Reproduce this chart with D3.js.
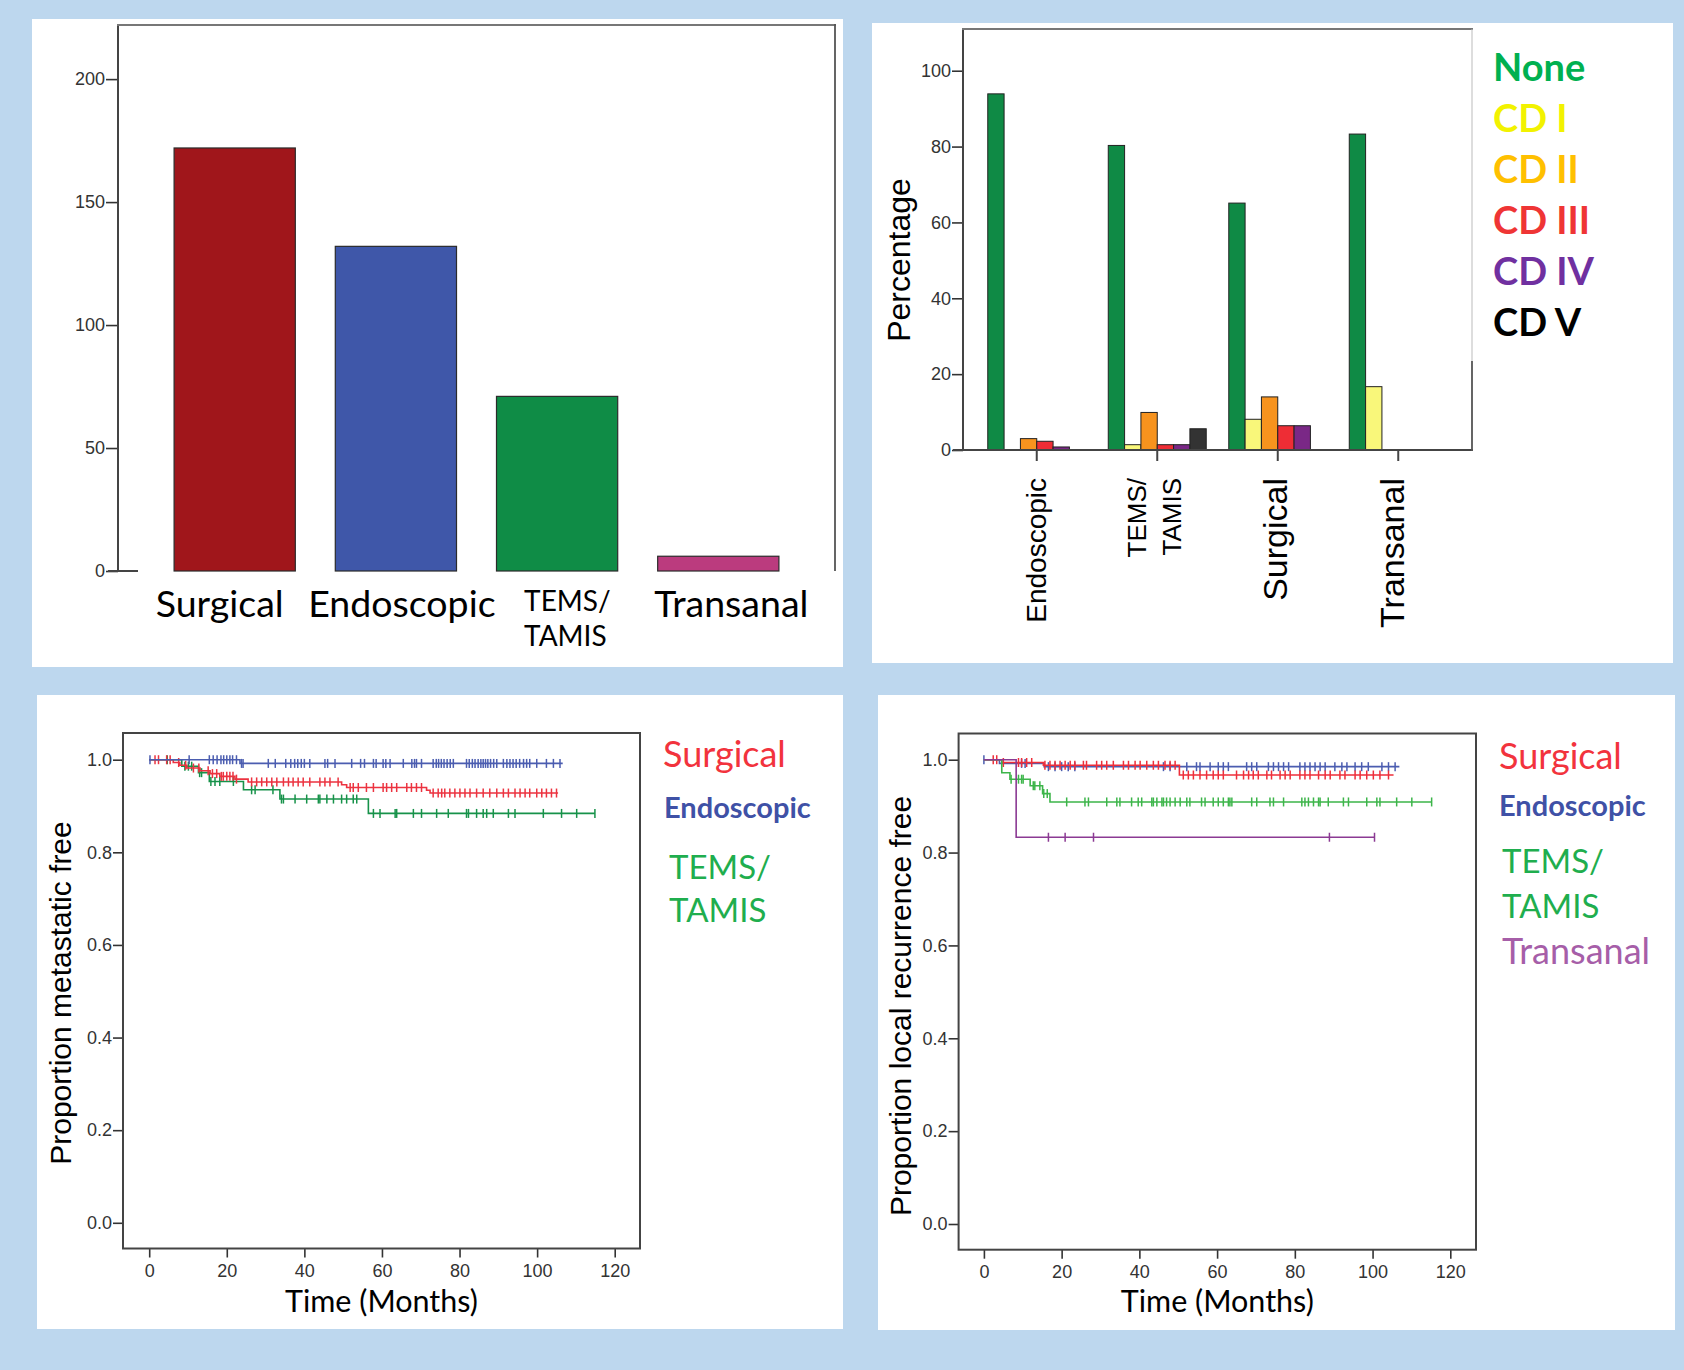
<!DOCTYPE html>
<html><head><meta charset="utf-8">
<script src="https://cdn.jsdelivr.net/npm/d3@7"></script>
<style>body{margin:0;background:#BDD7EE;} svg{display:block;}</style>
</head><body>
<svg id="c" width="1684" height="1370"></svg>
<script>
// ---------------- DATA ----------------
// Top-left: number of patients by procedure
const procedures = ["Surgical", "Endoscopic", "TEMS/TAMIS", "Transanal"];
const procedureCounts = [172, 132, 71, 6];
const countTicks = [0, 50, 100, 150, 200];

// Top-right: Clavien-Dindo complications (%)
const cdGroups = ["Endoscopic", "TEMS/TAMIS", "Surgical", "Transanal"];
const cdGrades = ["None", "CD I", "CD II", "CD III", "CD IV", "CD V"];
const cdEndoscopic = [93.9, 0, 3.0, 2.3, 0.8, 0];
const cdTems       = [80.3, 1.4, 9.9, 1.4, 1.4, 5.6];
const cdSurgical   = [65.1, 8.1, 14.0, 6.4, 6.4, 0];
const cdTransanal  = [83.3, 16.7, 0, 0, 0, 0];
const pctTicks = [0, 20, 40, 60, 80, 100];

// Kaplan-Meier: time (months) and proportion free
const timeTicks = [0, 20, 40, 60, 80, 100, 120];
const propTicks = [0, 0.2, 0.4, 0.6, 0.8, 1.0];

// Metastasis-free (bottom-left)
const metSurgicalSteps = [[0,1],[6.2,0.994],[7.9,0.988],[9.7,0.982],[13.1,0.976],[15.7,0.970],[18.2,0.964],[22.1,0.958],[25.5,0.952],[49.6,0.946],[50.9,0.940],[71.5,0.934],[72.4,0.928],[105.4,0.928]];
const metSurgicalCensor = [1.5,2.4,4.5,5.4,7.6,9.4,11.4,12.8,15.2,16.3,17.4,18.6,19.1,20,20.8,21.6,22.5,26.4,27.7,29,30.3,31.6,32.9,34.6,35.9,37.1,38.4,39.7,41.4,44,45.3,46.6,48.7,51.8,52.6,53.9,56,57.8,60.3,61.2,62.5,63.8,66.4,67.6,68.9,70.2,73.2,74.5,75.4,76.2,77.5,78.8,80.1,81.4,82.7,84.4,86.1,87.8,89.6,91.3,92.6,94.3,95.6,96.9,98.1,99.9,101.2,102.4,103.7,105];
const metEndoscopicSteps = [[0,1],[23.4,0.992],[106.6,0.992]];
const metEndoscopicCensor = [0.2,10.3,15.5,16.5,17.5,18.5,19.2,20,20.8,21.5,22.5,23.8,24.2,30.7,32.5,35.2,36.5,37.5,38.3,39.2,40,41.4,45.3,46,47.9,52.2,54.5,55.5,57.8,58.5,60.3,61,62.1,65.5,67.7,68.4,68.9,70.2,73.2,74,74.6,75.3,76,76.8,77.6,78.4,81.8,82.5,83.3,84,84.8,85.5,86.1,86.7,87.3,88,88.8,89.6,91.3,92.2,93,93.8,94.6,95.5,96.5,97.3,98.1,99.9,102.4,104.2,105.9];
const metTemsSteps = [[0,1],[8.4,0.986],[12.7,0.972],[15.5,0.953],[24.3,0.935],[33.7,0.915],[56.5,0.884],[114.9,0.884]];
const metTemsCensor = [4.65,9.2,10.1,10.95,13.0,13.5,15.9,16.96,18.2,21.7,26.4,27.3,31.9,34.1,34.6,37.6,40.6,43.6,44,45.8,47.5,49.6,50.9,52.6,53.5,57.8,59.5,63.4,63.8,68.1,70.2,74.1,77.1,81.8,82.3,84.4,86.1,87,88.7,92.6,94.3,101.6,106.3,110.2,114.9];

// Local recurrence-free (bottom-right)
const lrSurgicalSteps = [[0,1],[4.6,0.994],[15.3,0.988],[50.3,0.967],[105.4,0.967]];
const lrSurgicalCensor = [2.4,3.3,5,8.9,9.7,11,12.3,15.7,17,18.3,19.6,20.9,22.2,23.4,25.6,26.4,29,30.3,31.6,33.3,35.9,37.2,38.9,40.2,41.9,43.6,44.9,46.6,47.9,49.2,51.3,52.6,53.9,55.6,57.3,59,60.3,61.6,65,66.8,68.1,69.3,70.6,72.8,74,76.2,77.5,78.8,81.3,82.6,83.9,86.1,87.8,89.1,91.6,92.9,95.5,96.8,98.5,100.2,101.9,104.1];
const lrEndoscopicSteps = [[0,1],[4,0.992],[15.5,0.985],[106.9,0.985]];
const lrEndoscopicCensor = [0,9.7,10.6,16.6,18.3,20,21.7,23.4,46.2,47.9,52.2,54.7,55.6,58.2,60.3,61.6,62.9,67.6,68.9,70.2,73.2,74.5,75.8,77.1,78.4,81.3,82.6,83.9,85.2,86.5,87.8,90.3,92.1,93.4,95.5,97.2,98.9,102.4,104.1,105.8];
const lrTemsSteps = [[0,1],[4.6,0.972],[6.7,0.958],[11.9,0.944],[15.1,0.927],[17.0,0.909],[115.2,0.909]];
const lrTemsCensor = [7.0,8.9,9.7,10.1,12.7,13.1,14.4,15.4,16.3,21.3,26,26.9,31.6,34.2,35,38,39.7,40.6,43.2,43.6,44.5,45.8,46.2,47,47.9,49.2,50.5,52.2,53,56,56.9,59,60.3,61.6,62.9,63.3,63.8,68.9,70.2,73.6,74.5,77.1,81.8,82.6,83.5,84.8,86.1,86.5,88.6,92.5,93.8,98.5,101.1,101.9,106.2,110.1,115.2];
const lrTransanalSteps = [[0,1],[8.3,0.833],[100.6,0.833]];
const lrTransanalCensor = [16.6,20.9,28.2,88.9,100.5];

// ---------------- DRAWING ----------------
const svg = d3.select("#c");
const SPSS = "'Liberation Sans', Arial, sans-serif";
const PPT = "Lato, 'Open Sans', sans-serif";

// white panels
const panelBoxes = [[32,19,811,648],[872,23,801,640],[37,695,806,634],[878,695,797,635]];
svg.selectAll("rect.panel").data(panelBoxes).join("rect").attr("class","panel")
  .attr("x",d=>d[0]).attr("y",d=>d[1]).attr("width",d=>d[2]).attr("height",d=>d[3]).attr("fill","#fff");

function styleAxis(g, size) {
  g.attr("font-family", SPSS).attr("font-size", size);
  g.selectAll("text").attr("fill", "#333");
  g.selectAll("line").attr("stroke", "#333").attr("stroke-width", 1.6);
  g.select(".domain").remove();
}
function line(g, x1, y1, x2, y2, color, w) {
  g.append("line").attr("x1",x1).attr("y1",y1).attr("x2",x2).attr("y2",y2)
    .attr("stroke",color).attr("stroke-width",w);
}

// ===== Top-left bar chart =====
(function(){
  const g = svg.append("g");
  const tlColors = ["#A0161B", "#3F57A9", "#0F8C46", "#BB3B7E"];
  const labelShift = {"Surgical": -15, "Endoscopic": 6, "TEMS/TAMIS": 0, "Transanal": 13};
  const y = d3.scaleLinear().domain([0, 222]).range([571, 25]);
  const x = d3.scaleBand().domain(procedures).range([118, 835]).paddingInner(0.248).paddingOuter(0.348);
  g.selectAll("rect.bar").data(procedures).join("rect")
    .attr("x", d => x(d)).attr("y", (d,i) => y(procedureCounts[i]))
    .attr("width", x.bandwidth()).attr("height", (d,i) => y(0) - y(procedureCounts[i]))
    .attr("fill", (d,i) => tlColors[i]).attr("stroke", "#2b2b2b").attr("stroke-width", 1.2);
  const ax = g.append("g").attr("transform","translate(118,0)")
    .call(d3.axisLeft(y).tickValues(countTicks).tickSize(12).tickPadding(1));
  styleAxis(ax, 18);
  line(g, 118, 24, 118, 572, "#444", 2);
  line(g, 117, 25, 836, 25, "#777", 2.2);
  line(g, 835, 24, 835, 571, "#555", 1.8);
  line(g, 108, 571, 138, 571, "#444", 2);
  // category labels
  procedures.forEach((p) => {
    const cx = x(p) + x.bandwidth() / 2 + labelShift[p];
    const parts = p.includes("/") ? [p.split("/")[0] + "/", p.split("/")[1]] : [p];
    if (parts.length === 1) {
      g.append("text").attr("x", cx).attr("y", 617).attr("text-anchor","middle")
        .attr("font-family", PPT).attr("font-size", 37.5).attr("fill","#000").text(p);
    } else {
      parts.forEach((t, k) => g.append("text").attr("x", cx - 33).attr("y", 611 + k * 35)
        .attr("font-family", PPT).attr("font-size", 28).attr("fill","#000").text(t));
    }
  });
})();

// ===== Top-right grouped bar chart =====
(function(){
  const g = svg.append("g");
  const cdTable = [cdEndoscopic, cdTems, cdSurgical, cdTransanal];
  const barColors = ["#0F8A45", "#F9F77A", "#F7931E", "#EE2D35", "#7A2886", "#333333"];
  const legendColors = ["#00B050", "#F2F200", "#FFC000", "#EF3535", "#7030A0", "#000000"];
  const y = d3.scaleLinear().domain([0, 111]).range([450, 29]);
  const x0 = d3.scaleBand().domain(cdGroups).range([963, 1472]).paddingInner(0.187).paddingOuter(0.2055);
  const x1 = d3.scaleBand().domain(cdGrades).range([0, x0.bandwidth()]);
  cdGroups.forEach((grp, gi) => {
    const vals = cdTable[gi];
    g.selectAll(null).data(cdGrades.map((c, ci) => ({c, ci, v: vals[ci]})).filter(d => d.v > 0)).join("rect")
      .attr("x", d => x0(grp) + x1(d.c)).attr("y", d => y(d.v))
      .attr("width", x1.bandwidth()).attr("height", d => y(0) - y(d.v))
      .attr("fill", d => barColors[d.ci]).attr("stroke", "#222").attr("stroke-width", 1);
  });
  const ax = g.append("g").attr("transform","translate(963,0)")
    .call(d3.axisLeft(y).tickValues(pctTicks).tickSize(11).tickPadding(1));
  styleAxis(ax, 18);
  line(g, 963, 28, 963, 451, "#444", 2);
  line(g, 962, 29, 1473, 29, "#777", 2.2);
  line(g, 953, 450, 1473, 450, "#444", 2);
  line(g, 1472, 29, 1472, 361, "#bbb", 1);
  line(g, 1472, 361, 1472, 451, "#555", 1.8);
  cdGroups.forEach(grp => {
    const cx = x0(grp) + x0.bandwidth() / 2;
    line(g, cx, 450, cx, 461, "#444", 2);
  });
  // rotated category labels
  const labStyle = {"Endoscopic": [28, 0], "Surgical": [34, -3], "Transanal": [34, -6]};
  cdGroups.forEach(grp => {
    const cx = x0(grp) + x0.bandwidth() / 2;
    if (grp.includes("/")) {
      const parts = [grp.split("/")[0] + "/", grp.split("/")[1]];
      parts.forEach((t, k) => g.append("text")
        .attr("transform", `translate(${cx - 20 + k * 35},478) rotate(-90)`)
        .attr("text-anchor","end").attr("dominant-baseline","central")
        .attr("font-family", SPSS).attr("font-size", 26).attr("fill","#000").text(t));
    } else {
      const [fs, dx] = labStyle[grp];
      g.append("text").attr("transform", `translate(${cx + dx},478) rotate(-90)`)
        .attr("text-anchor","end").attr("dominant-baseline","central")
        .attr("font-family", SPSS).attr("font-size", fs).attr("fill","#000").text(grp);
    }
  });
  g.append("text").attr("transform","translate(899,260) rotate(-90)")
    .attr("text-anchor","middle").attr("dominant-baseline","central")
    .attr("font-family", SPSS).attr("font-size", 32).attr("fill","#000").text("Percentage");
  // legend
  cdGrades.forEach((c, i) => {
    g.append("text").attr("x", 1493).attr("y", 81 + i * 51)
      .attr("font-family", PPT).attr("font-weight", 700).attr("font-size", 38)
      .attr("fill", legendColors[i]).text(c);
  });
})();

// ===== Kaplan-Meier plots =====
function stepValue(steps, t) {
  let v = steps[0][1];
  for (const s of steps) if (s[0] <= t) v = s[1];
  return v;
}
function drawKM(cfg) {
  const g = svg.append("g");
  const [bx0, bx1, by0, by1] = cfg.box;
  const x = d3.scaleLinear().domain([0, 120]).range(cfg.xr);
  const y = d3.scaleLinear().domain([0, 1]).range(cfg.yr);
  const ax = g.append("g").attr("transform", `translate(${bx0},0)`)
    .call(d3.axisLeft(y).tickValues(propTicks).tickFormat(d3.format(".1f")).tickSize(10).tickPadding(1));
  styleAxis(ax, 18);
  const bx = g.append("g").attr("transform", `translate(0,${by1})`)
    .call(d3.axisBottom(x).tickValues(timeTicks).tickSize(9).tickPadding(7));
  styleAxis(bx, 18);
  g.append("rect").attr("x", bx0).attr("y", by0).attr("width", bx1 - bx0).attr("height", by1 - by0)
    .attr("fill", "none").attr("stroke", "#444").attr("stroke-width", 2);
  const path = d3.line().x(d => x(d[0])).y(d => y(d[1])).curve(d3.curveStepAfter);
  cfg.series.forEach(s => {
    g.append("path").attr("d", path(s.steps)).attr("fill","none")
      .attr("stroke", s.color).attr("stroke-width", 1.6);
    g.selectAll(null).data(s.censor).join("line")
      .attr("x1", t => x(t)).attr("x2", t => x(t))
      .attr("y1", t => y(stepValue(s.steps, t)) - 4.5).attr("y2", t => y(stepValue(s.steps, t)) + 4.5)
      .attr("stroke", s.color).attr("stroke-width", 1.5);
  });
  g.append("text").attr("transform", `translate(${cfg.ylabPos[0]},${cfg.ylabPos[1]}) rotate(-90)`)
    .attr("text-anchor","middle").attr("dominant-baseline","central")
    .attr("font-family", SPSS).attr("font-size", 30).attr("fill","#000").text(cfg.ylab);
  g.append("text").attr("x", (bx0 + bx1) / 2).attr("y", 1312).attr("text-anchor","middle")
    .attr("font-family", PPT).attr("font-size", 30.5).attr("fill","#000").text("Time (Months)");
  cfg.legend.forEach(l => {
    g.append("text").attr("x", l.x).attr("y", l.y).attr("font-family", PPT)
      .attr("font-size", l.size).attr("font-weight", l.bold ? 700 : 400).attr("fill", l.color).text(l.text);
  });
}

drawKM({
  box: [123, 640, 733, 1248.5], xr: [149.2, 614.7], yr: [1222.8, 759.7],
  ylab: "Proportion metastatic free", ylabPos: [60, 993],
  series: [
    {steps: metTemsSteps, censor: metTemsCensor, color: "#17924A"},
    {steps: metSurgicalSteps, censor: metSurgicalCensor, color: "#EC3340"},
    {steps: metEndoscopicSteps, censor: metEndoscopicCensor, color: "#4B5DB0"}
  ],
  legend: [
    {text: "Surgical", x: 663, y: 767, size: 36, color: "#F2333D"},
    {text: "Endoscopic", x: 664, y: 818, size: 29, bold: true, color: "#3F51A6"},
    {text: "TEMS/", x: 669, y: 879, size: 33, color: "#1FAE4E"},
    {text: "TAMIS", x: 669, y: 922, size: 33, color: "#1FAE4E"}
  ]
});

drawKM({
  box: [958.6, 1476, 733.5, 1249.7], xr: [983.9, 1450.3], yr: [1224, 759.7],
  ylab: "Proportion local recurrence free", ylabPos: [900, 1006],
  series: [
    {steps: lrEndoscopicSteps, censor: lrEndoscopicCensor, color: "#4B5DB0"},
    {steps: lrSurgicalSteps, censor: lrSurgicalCensor, color: "#EE2E3A"},
    {steps: lrTemsSteps, censor: lrTemsCensor, color: "#3DB54A"},
    {steps: lrTransanalSteps, censor: lrTransanalCensor, color: "#8B3A93"}
  ],
  legend: [
    {text: "Surgical", x: 1499, y: 769, size: 36, color: "#F2333D"},
    {text: "Endoscopic", x: 1499, y: 816, size: 29, bold: true, color: "#3F51A6"},
    {text: "TEMS/", x: 1502, y: 873, size: 33, color: "#1FAE4E"},
    {text: "TAMIS", x: 1502, y: 918, size: 33, color: "#1FAE4E"},
    {text: "Transanal", x: 1502, y: 964, size: 36, color: "#A65EA8"}
  ]
});
</script>
</body></html>
